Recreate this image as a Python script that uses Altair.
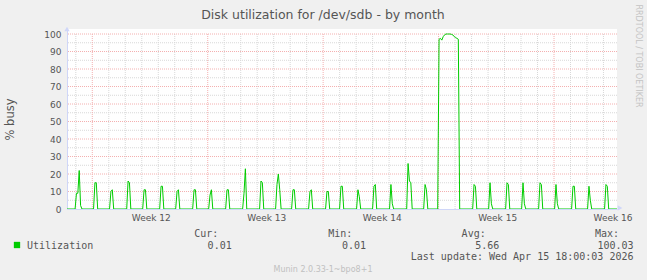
import altair as alt
import pandas as pd

# ---------------- data ----------------
TITLE = "Disk utilization for /dev/sdb - by month"
Y_TITLE = "% busy"
SERIES = "Utilization"
SIDE_TEXT = "RRDTOOL / TOBI OETIKER"
FOOTER = "Munin 2.0.33-1~bpo8+1"
LAST_UPDATE = "Last update: Wed Apr 15 18:00:03 2026"

WEEK_NUMBERS = [12, 13, 14, 15, 16]
WEEK_STARTS = [0, 7, 14, 21, 28]            # days (Monday 00:00 of each ISO week)
WEEK_LABEL_POS = [3.55, 10.55, 17.55, 24.55, 31.55]
DAY_LINES = list(range(-1, 32))
Y_TICKS = list(range(0, 101, 10))
Y_MINOR = list(range(5, 100, 10))
X_DOMAIN = [-1.534, 31.82]
Y_MAX = 102.86

STATS_NAMES = ["Cur:", "Min:", "Avg:", "Max:"]
STATS_VALUES = ["0.01", "0.01", "5.66", "100.03"]

STEP = 1 / 12  # 2-hour consolidated samples, in days

# start (days) of each burst of activity and its sample values (% busy)
burst_start = [-0.96, 0.16, 1.13, 2.17, 3.14, 4.17, 5.14, 6.17, 7.14, 8.17,
               9.20, 10.23, 11.20, 12.17, 13.20, 14.23, 15.08, 16.11, 17.08,
               18.11, 19.15, 20.18, 21.03, 23.15, 24.12, 25.15, 26.12, 27.15,
               28.12, 29.15, 30.12, 31.15]
burst_values = [
    [9, 9, 22, 2],
    [15, 15],
    [10, 11],
    [16, 15],
    [11, 11],
    [13, 13],
    [10, 11],
    [11, 11],
    [8, 11],
    [11, 11],
    [9, 23],
    [16, 15],
    [14, 20, 11],
    [11, 11],
    [10, 11],
    [10, 10],
    [13, 13],
    [11, 7],
    [13, 14],
    [14, 3],
    [26, 16, 15],
    [14, 11],
    [97, 97.5, 96.5, 98.5, 99.5, 100, 100, 100, 100, 99.8, 99.5, 98.5, 98, 97.5, 97],
    [14, 13],
    [15, 3],
    [15, 14],
    [15, 3],
    [15, 14],
    [14, 3],
    [13, 13],
    [13, 5],
    [14, 13],
]

rows = [(X_DOMAIN[0], 0.0)]
for s, vals in zip(burst_start, burst_values):
    rows.append((s - STEP, 0.0))
    for i, v in enumerate(vals):
        rows.append((s + i * STEP, float(v)))
    rows.append((s + len(vals) * STEP, 0.0))
rows.append((X_DOMAIN[1], 0.0))
line_df = pd.DataFrame(rows, columns=["t", "v"])

# ---------------- styling ----------------
FONT = "DejaVu Sans"
MONO = "DejaVu Sans Mono"
FONT_COLOR = "#555555"
AXIS_COLOR = "#CFD6F8"
GRID_MINOR = "#d8d8d8"
GRID_MAJOR = "#f4b0b0"
LINE_COLOR = "#00cc00"

xs = alt.Scale(domain=X_DOMAIN, nice=False, zero=False)
ys = alt.Scale(domain=[0, Y_MAX], nice=False, zero=True)

label_expr = "".join(
    f"abs(datum.value - {p}) < 0.01 ? 'Week {w}' : " for p, w in zip(WEEK_LABEL_POS, WEEK_NUMBERS)
) + "''"

x_axis = alt.Axis(
    values=WEEK_LABEL_POS, labelExpr=label_expr, grid=False, ticks=False,
    domainColor=AXIS_COLOR, domainWidth=1, labelFont=FONT, labelFontSize=9,
    labelColor=FONT_COLOR, labelPadding=4, title=None, labelFlush=False,
    labelOverlap=False,
)
y_axis = alt.Axis(
    values=Y_TICKS, grid=False, ticks=False, domainColor=AXIS_COLOR, domainWidth=1,
    labelFont=FONT, labelFontSize=9, labelColor=FONT_COLOR, labelPadding=6,
    labelOverlap=False, labelFlush=False,
    title=Y_TITLE, titleFont=FONT, titleFontSize=11.5, titleFontWeight="normal",
    titleColor=FONT_COLOR, titleAngle=270, titleX=-54, titleY=90,
    titleAlign="center", titleBaseline="alphabetic",
)

minor_days = [d for d in DAY_LINES if d not in WEEK_STARTS]

vgrid_minor = alt.Chart(pd.DataFrame({"d": minor_days})).mark_rule(
    color=GRID_MINOR, strokeDash=[1, 1], strokeWidth=1
).encode(
    x=alt.X("d:Q", scale=xs, axis=x_axis),
    y=alt.YDatum(0, scale=ys, axis=y_axis), y2=alt.Y2Datum(100),
)

vgrid_major = alt.Chart(pd.DataFrame({"d": WEEK_STARTS})).mark_rule(
    color=GRID_MAJOR, strokeDash=[1, 1], strokeWidth=1
).encode(
    x=alt.X("d:Q", scale=xs, axis=x_axis),
    y=alt.YDatum(0, scale=ys, axis=y_axis), y2=alt.Y2Datum(100),
)

hgrid_minor = alt.Chart(pd.DataFrame({"v": Y_MINOR})).mark_rule(
    color=GRID_MINOR, strokeDash=[1, 1], strokeWidth=1
).encode(y=alt.Y("v:Q", scale=ys, axis=y_axis))

hgrid_major = alt.Chart(pd.DataFrame({"v": Y_TICKS[1:]})).mark_rule(
    color=GRID_MAJOR, strokeDash=[1, 1], strokeWidth=1
).encode(y=alt.Y("v:Q", scale=ys, axis=y_axis))

line = alt.Chart(line_df).mark_line(color=LINE_COLOR, strokeWidth=1, clip=True).encode(
    x=alt.X("t:Q", scale=xs, axis=x_axis),
    y=alt.Y("v:Q", scale=ys, axis=y_axis),
)


def text_layer(text, x, y, align="left", font=FONT, size=10, color=FONT_COLOR, angle=0,
               baseline="alphabetic"):
    return alt.Chart(pd.DataFrame({"label": [text]})).mark_text(
        align=align, baseline=baseline, font=font, fontSize=size, color=color, angle=angle
    ).encode(text="label:N", x=alt.value(x), y=alt.value(y))


arrow_up = alt.Chart(pd.DataFrame({"a": [0]})).mark_point(
    shape="triangle-up", filled=True, size=28, color=AXIS_COLOR, opacity=1
).encode(x=alt.value(0), y=alt.value(0))
arrow_right = alt.Chart(pd.DataFrame({"a": [0]})).mark_point(
    shape="triangle-right", filled=True, size=28, color=AXIS_COLOR, opacity=1
).encode(x=alt.value(553), y=alt.value(179))

legend_box = alt.Chart(pd.DataFrame({"a": [SERIES]})).mark_square(
    size=40, color=LINE_COLOR, opacity=1
).encode(x=alt.value(-50), y=alt.value(216))

texts = [
    text_layer(TITLE, 256, -10.5, align="center", size=12.5),
    text_layer(SIDE_TEXT, 571, 27, align="center", size=8, color="#c4c4c4", angle=90,
               baseline="middle"),
    text_layer(SERIES, -40, 220, font=MONO, size=10),
    text_layer(LAST_UPDATE, 566.5, 231, align="right", font=MONO, size=10),
    text_layer(FOOTER, 256, 243, align="center", size=8, color="#c0c0c0"),
]
name_right = [151.3, 285.3, 418.7, 552]
value_right = [164.7, 299, 432.3, 566.5]
for n, v, xn, xv in zip(STATS_NAMES, STATS_VALUES, name_right, value_right):
    texts.append(text_layer(n, xn, 208, align="right", font=MONO, size=10))
    texts.append(text_layer(v, xv, 220, align="right", font=MONO, size=10))

chart = alt.layer(
    hgrid_minor, vgrid_minor, hgrid_major, vgrid_major, line,
    arrow_up, arrow_right, legend_box, *texts
).properties(
    width=550, height=180,
    autosize=alt.AutoSizeParams(type="none"),
    padding={"left": 67, "top": 29, "right": 30, "bottom": 71},
).configure(background="#f0f0f0").configure_view(
    fill="white", stroke=None
).configure_axis(labelOverlap=False)

chart.save("out.html", embed_options={"renderer": "svg", "actions": False})
